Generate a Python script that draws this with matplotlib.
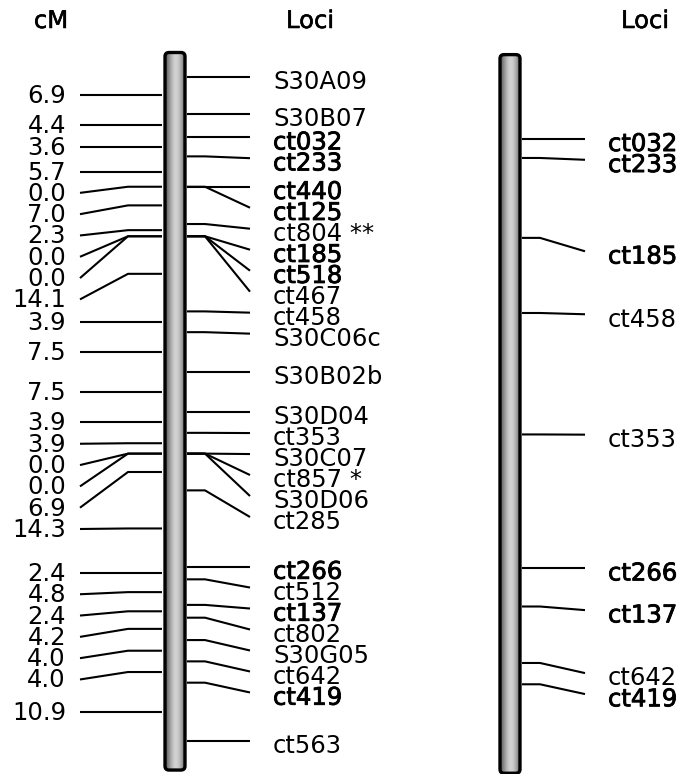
import numpy as np
import matplotlib.pyplot as plt
import matplotlib.patheffects as pe
from matplotlib.patches import FancyBboxPatch

# linkage group data: loci in map order and the cM distance between neighbours
loci = ["S30A09", "S30B07", "ct032", "ct233", "ct440", "ct125", "ct804 **",
        "ct185", "ct518", "ct467", "ct458", "S30C06c", "S30B02b", "S30D04",
        "ct353", "S30C07", "ct857 *", "S30D06", "ct285", "ct266", "ct512",
        "ct137", "ct802", "S30G05", "ct642", "ct419", "ct563"]
intervals_cm = [6.9, 4.4, 3.6, 5.7, 0.0, 7.0, 2.3, 0.0, 0.0, 14.1, 3.9, 7.5, 7.5,
                3.9, 3.9, 0.0, 0.0, 6.9, 14.3, 2.4, 4.8, 2.4, 4.2, 4.0, 4.0, 10.9]
bold_loci = {"ct032", "ct233", "ct440", "ct125", "ct185", "ct518",
             "ct266", "ct137", "ct419"}

# second map: only the loci shared with the first
loci_map2 = ["ct032", "ct233", "ct185", "ct458", "ct353",
             "ct266", "ct137", "ct642", "ct419"]

pos = np.concatenate([[0.0], np.cumsum(intervals_cm)])
mid = (pos[:-1] + pos[1:]) / 2


def spread(targets, gap):
    # push labels down so they never sit closer than `gap`
    out = []
    for t in targets:
        if out and t < out[-1] + gap:
            t = out[-1] + gap
        out.append(t)
    return np.array(out)


lab_right = spread(pos, 3.94)
lab_left = spread(mid, 4.0)

fig = plt.figure(figsize=(6.86, 7.74), dpi=100)
ax = fig.add_axes([0, 0, 1, 1])
px_per_cm = 5.327
ax.set_xlim(0, 686)
ax.set_ylim((774 - 77) / px_per_cm, -77 / px_per_cm)
ax.axis("off")

FS = 17.5
LW = 1.5
bold_fx = [pe.withStroke(linewidth=0.6, foreground="black")]


def draw_bar(c, top, bottom, width=20):
    x0 = c - width / 2
    patch = FancyBboxPatch((x0, top), width, bottom - top,
                           boxstyle="round,pad=0,rounding_size=4",
                           mutation_aspect=1 / px_per_cm,
                           facecolor="none", edgecolor="black", lw=2.4, zorder=3)
    ax.add_patch(patch)
    t = np.linspace(-1, 1, 60)
    shade = 0.38 + 0.44 * np.cos((t - 0.1) * np.pi / 2.2) ** 1.5
    im = ax.imshow(shade[None, :], cmap="gray", vmin=0, vmax=1, aspect="auto",
                   extent=(x0, x0 + width, bottom, top), zorder=2,
                   interpolation="bilinear")
    im.set_clip_path(patch)


def draw_right(c, names, y_loc, y_lab):
    for name, yl, yt in zip(names, y_loc, y_lab):
        ax.plot([c + 12, c + 30, c + 75], [yl, yl, yt], color="black",
                lw=LW, solid_capstyle="butt")
        fx = bold_fx if name in bold_loci else None
        ax.text(c + 98, yt + 2.3, name, ha="left", va="baseline",
                fontsize=FS, path_effects=fx)


# map 1
c1 = 175
draw_bar(c1, pos[0] - 4.6, pos[-1] + 5.5)
draw_right(c1, loci, pos, lab_right)
for d, ym, yt in zip(intervals_cm, mid, lab_left):
    ax.plot([c1 - 13, c1 - 47, c1 - 95], [ym, ym, yt], color="black",
            lw=LW, solid_capstyle="butt")
    ax.text(c1 - 109, yt + 1.5, f"{d:.1f}", ha="right", va="baseline",
            fontsize=FS)

# map 2 (same positions, labels placed as in map 1)
c2 = 510
shift = 0.3
idx = [loci.index(n) for n in loci_map2]
draw_bar(c2, pos[0] - 4.5 + shift, pos[-1] + 5.8 + shift)
draw_right(c2, loci_map2, pos[idx] + shift, lab_right[idx] + shift)

# headers
hdr_fx = [pe.withStroke(linewidth=0.4, foreground="black")]
ax.text(51, -9.2, "cM", ha="center", va="baseline", fontsize=FS,
        path_effects=hdr_fx)
ax.text(c1 + 135, -9.2, "Loci", ha="center", va="baseline", fontsize=FS,
        path_effects=hdr_fx)
ax.text(c2 + 135, -9.2, "Loci", ha="center", va="baseline", fontsize=FS,
        path_effects=hdr_fx)

fig.savefig("out.png", dpi=100)
